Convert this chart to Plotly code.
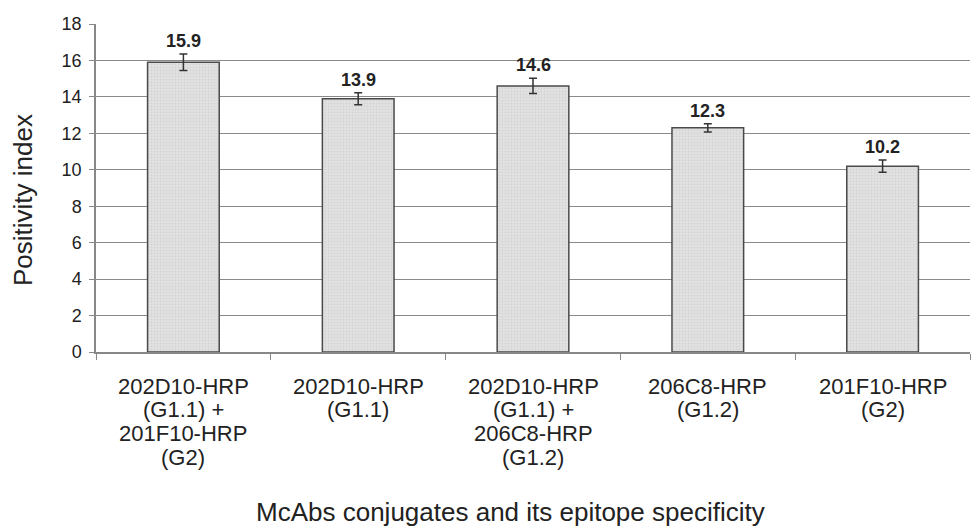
import plotly.graph_objects as go

# Each conjugate label is stored line by line
label_lines = [
    ["202D10-HRP", "(G1.1) +", "201F10-HRP", "(G2)"],
    ["202D10-HRP", "(G1.1)"],
    ["202D10-HRP", "(G1.1) +", "206C8-HRP", "(G1.2)"],
    ["206C8-HRP", "(G1.2)"],
    ["201F10-HRP", "(G2)"],
]
categories = [" ".join(lines) for lines in label_lines]
positivity = [15.9, 13.9, 14.6, 12.3, 10.2]
errors = [0.45, 0.33, 0.42, 0.22, 0.33]
y_ticks = list(range(0, 19, 2))

font = "Liberation Sans, Arial, sans-serif"
ink = "#222222"
axis_grey = "#888888"

fig = go.Figure()
fig.add_trace(go.Bar(
    x=categories,
    y=positivity,
    width=0.41,
    marker=dict(
        color="#dedede",
        line=dict(color="#4a4a4a", width=1.5),
        pattern=dict(shape=".", fgcolor="#c4c4c4", bgcolor="#e2e2e2", size=3, solidity=0.3),
    ),
    error_y=dict(type="data", array=errors, visible=True, color="#333333", thickness=1.5, width=4),
    showlegend=False,
))

# value labels above the error bars
for cat, v, e in zip(categories, positivity, errors):
    fig.add_annotation(
        x=cat, y=v + e, text=f"<b>{v}</b>", showarrow=False,
        yanchor="bottom", yshift=1,
        font=dict(family=font, size=18, color=ink),
    )

# category labels with tight line spacing
for cat, lines in zip(categories, label_lines):
    for i, line in enumerate(lines):
        fig.add_annotation(
            x=cat, xref="x", y=0, yref="paper", text=line, showarrow=False,
            xanchor="center", yanchor="middle", yshift=-(34 + 23.7 * i),
            font=dict(family=font, size=22, color=ink),
        )

# axis titles
fig.add_annotation(
    x=0.4737, xref="paper", y=0, yref="paper", xanchor="center", yanchor="middle",
    yshift=-160, borderpad=0,
    text="McAbs conjugates and its epitope specificity", showarrow=False,
    font=dict(family=font, size=26, color=ink),
)
fig.add_annotation(
    x=-0.0835, xref="paper", y=0.4634, yref="paper", xanchor="center", yanchor="middle",
    text="Positivity index", textangle=-90, showarrow=False,
    font=dict(family=font, size=26, color=ink),
)

fig.update_layout(
    width=972, height=528,
    margin=dict(l=96, r=2, t=24, b=176),
    paper_bgcolor="white", plot_bgcolor="white",
    font=dict(family=font, color=ink),
)
fig.update_xaxes(
    showline=True, linecolor=axis_grey, linewidth=1.5,
    ticks="outside", tickson="boundaries", ticklen=6, tickcolor=axis_grey,
    showticklabels=False, automargin=False,
)
fig.update_yaxes(
    range=[0, 18], tickvals=y_ticks,
    showline=True, linecolor=axis_grey, linewidth=1.5,
    ticks="outside", ticklen=5, tickcolor=axis_grey,
    ticklabelstandoff=4,
    showgrid=True, gridcolor="#8a8a8a", gridwidth=1,
    tickfont=dict(size=18, family=font, color=ink),
    zeroline=False, automargin=False,
)

fig.write_html("out.html")
